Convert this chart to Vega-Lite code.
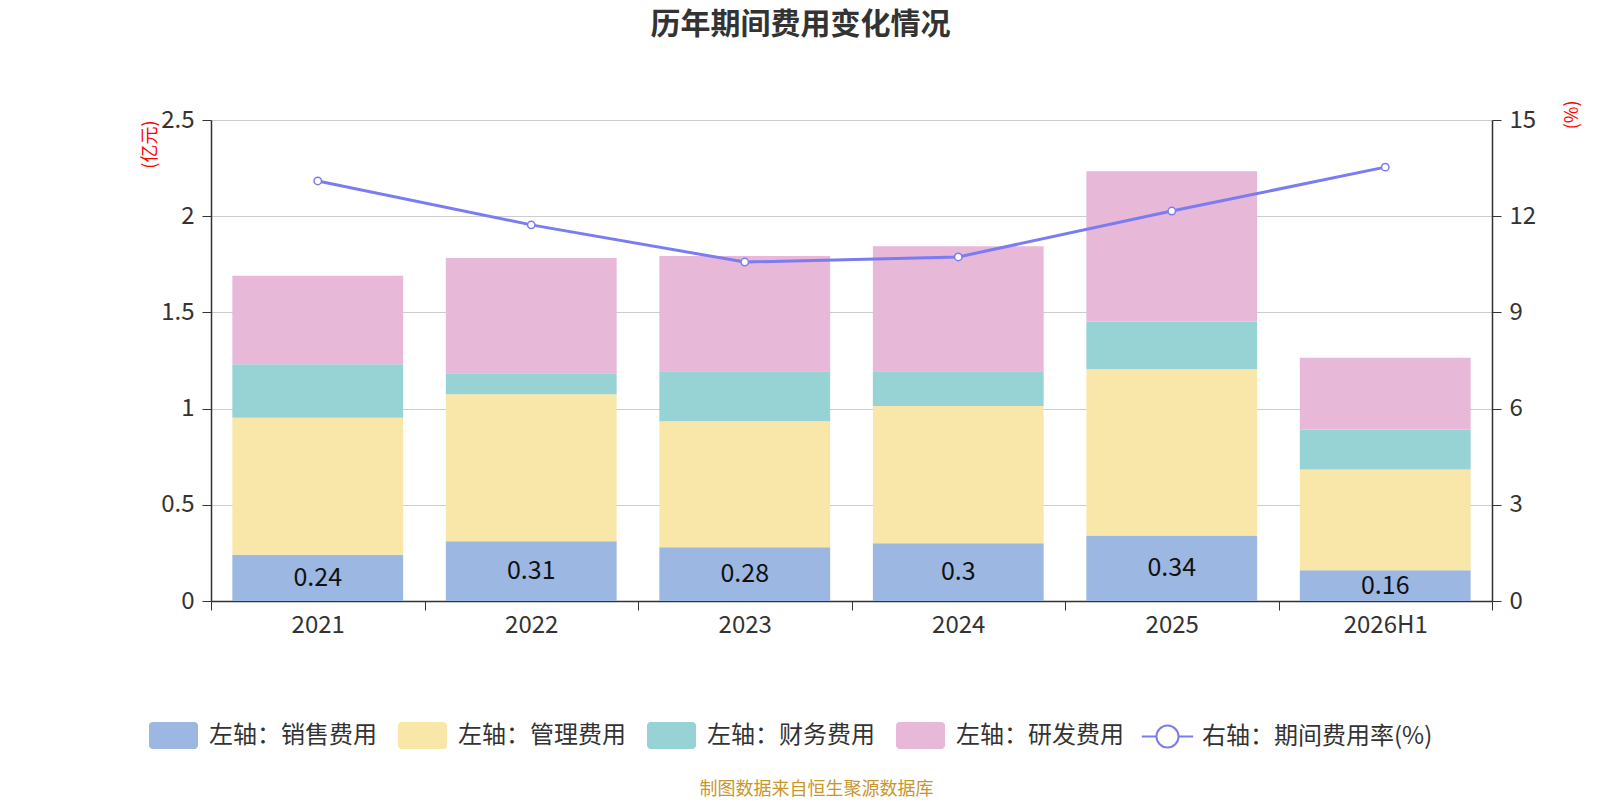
{
  "$schema": "https://vega.github.io/schema/vega-lite/v6.json",
  "width": 1281,
  "height": 481,
  "autosize": {"type": "none"},
  "padding": {"left": 211, "top": 120, "right": 108, "bottom": 199},
  "background": "white",
  "title": {
    "text": "历年期间费用变化情况",
    "fontSize": 30,
    "fontWeight": "bold",
    "color": "#333333",
    "anchor": "middle",
    "dx": -51,
    "offset": 60
  },
  "datasets": {
    "fees": [
      {"year": "2021", "type": "左轴：销售费用", "seq": 1, "value": 0.24},
      {"year": "2021", "type": "左轴：管理费用", "seq": 2, "value": 0.712},
      {"year": "2021", "type": "左轴：财务费用", "seq": 3, "value": 0.279},
      {"year": "2021", "type": "左轴：研发费用", "seq": 4, "value": 0.459},
      {"year": "2022", "type": "左轴：销售费用", "seq": 1, "value": 0.31},
      {"year": "2022", "type": "左轴：管理费用", "seq": 2, "value": 0.765},
      {"year": "2022", "type": "左轴：财务费用", "seq": 3, "value": 0.109},
      {"year": "2022", "type": "左轴：研发费用", "seq": 4, "value": 0.599},
      {"year": "2023", "type": "左轴：销售费用", "seq": 1, "value": 0.28},
      {"year": "2023", "type": "左轴：管理费用", "seq": 2, "value": 0.654},
      {"year": "2023", "type": "左轴：财务费用", "seq": 3, "value": 0.26},
      {"year": "2023", "type": "左轴：研发费用", "seq": 4, "value": 0.599},
      {"year": "2024", "type": "左轴：销售费用", "seq": 1, "value": 0.3},
      {"year": "2024", "type": "左轴：管理费用", "seq": 2, "value": 0.714},
      {"year": "2024", "type": "左轴：财务费用", "seq": 3, "value": 0.18},
      {"year": "2024", "type": "左轴：研发费用", "seq": 4, "value": 0.65},
      {"year": "2025", "type": "左轴：销售费用", "seq": 1, "value": 0.34},
      {"year": "2025", "type": "左轴：管理费用", "seq": 2, "value": 0.865},
      {"year": "2025", "type": "左轴：财务费用", "seq": 3, "value": 0.248},
      {"year": "2025", "type": "左轴：研发费用", "seq": 4, "value": 0.78},
      {"year": "2026H1", "type": "左轴：销售费用", "seq": 1, "value": 0.16},
      {"year": "2026H1", "type": "左轴：管理费用", "seq": 2, "value": 0.524},
      {"year": "2026H1", "type": "左轴：财务费用", "seq": 3, "value": 0.208},
      {"year": "2026H1", "type": "左轴：研发费用", "seq": 4, "value": 0.372}
    ],
    "rate": [
      {"year": "2021", "series": "右轴：期间费用率(%)", "rate": 13.1},
      {"year": "2022", "series": "右轴：期间费用率(%)", "rate": 11.73},
      {"year": "2023", "series": "右轴：期间费用率(%)", "rate": 10.57},
      {"year": "2024", "series": "右轴：期间费用率(%)", "rate": 10.73},
      {"year": "2025", "series": "右轴：期间费用率(%)", "rate": 12.16},
      {"year": "2026H1", "series": "右轴：期间费用率(%)", "rate": 13.53}
    ]
  },
  "layer": [
    {
      "data": {"name": "fees"},
      "layer": [
        {
          "mark": {"type": "bar", "width": {"band": 0.8}},
          "encoding": {
            "x": {
              "field": "year",
              "type": "nominal",
              "sort": null,
              "scale": {"paddingInner": 0, "paddingOuter": 0},
              "axis": {
                "title": "制图数据来自恒生聚源数据库",
                "titleColor": "#C9962C",
                "titleFontSize": 18,
                "titleFontWeight": "normal",
                "titleX": 605,
                "titleY": 188,
                "titleBaseline": "middle",
                "labelAngle": 0,
                "labelFontSize": 24,
                "labelColor": "#333333",
                "labelPadding": 3,
                "tickBand": "extent",
                "tickSize": 9,
                "tickColor": "#333333",
                "domainColor": "#333333",
                "domainWidth": 1.5,
                "grid": false
              }
            },
            "y": {
              "field": "value",
              "type": "quantitative",
              "stack": "zero",
              "scale": {"domain": [0, 2.5], "nice": false},
              "axis": {
                "title": "(亿元)",
                "titleColor": "red",
                "titleFontSize": 18,
                "titleFontWeight": "normal",
                "titleAngle": -90,
                "titleX": -61,
                "titleY": 0,
                "titleAlign": "right",
                "titleBaseline": "middle",
                "values": [0, 0.5, 1, 1.5, 2, 2.5],
                "format": "~g",
                "labelFontSize": 24,
                "labelColor": "#333333",
                "labelPadding": 8,
                "tickSize": 9,
                "tickColor": "#333333",
                "domainColor": "#333333",
                "domainWidth": 1.5,
                "gridColor": "#cccccc",
                "gridWidth": 1.2
              }
            },
            "color": {
              "field": "type",
              "type": "nominal",
              "sort": ["左轴：销售费用", "左轴：管理费用", "左轴：财务费用", "左轴：研发费用"],
              "scale": {
                "domain": ["左轴：销售费用", "左轴：管理费用", "左轴：财务费用", "左轴：研发费用"],
                "range": ["#9CB8E2", "#F8E7A8", "#97D3D4", "#E7B8D8"]
              },
              "legend": {
                "orient": "none",
                "legendX": -50,
                "legendY": 603,
                "direction": "horizontal",
                "columns": 4,
                "title": null,
                "symbolType": "M-1.7,-1.1 H1.7 A0.3,0.3 0 0 1 2,-0.8 V0.8 A0.3,0.3 0 0 1 1.7,1.1 H-1.7 A0.3,0.3 0 0 1 -2,0.8 V-0.8 A0.3,0.3 0 0 1 -1.7,-1.1 Z",
                "symbolSize": 600,
                "symbolStrokeWidth": 0,
                "symbolOpacity": 1,
                "labelOffset": 23,
                "columnPadding": 21,
                "labelFontSize": 24,
                "labelColor": "#333333",
                "labelLimit": 400
              }
            },
            "order": {"field": "seq", "type": "quantitative"}
          }
        },
        {
          "transform": [
            {"filter": "datum.seq == 1"},
            {"calculate": "datum.value / 2", "as": "mid"}
          ],
          "mark": {"type": "text", "fontSize": 25, "color": "#111111", "baseline": "middle"},
          "encoding": {
            "x": {"field": "year", "type": "nominal", "sort": null},
            "y": {"field": "mid", "type": "quantitative"},
            "text": {"field": "value", "type": "quantitative"}
          }
        }
      ]
    },
    {
      "data": {"name": "rate"},
      "mark": {
        "type": "line",
        "strokeWidth": 3,
        "point": {"filled": false, "fill": "white", "size": 55, "strokeWidth": 1.5}
      },
      "encoding": {
        "x": {"field": "year", "type": "nominal", "sort": null},
        "y": {
          "field": "rate",
          "type": "quantitative",
          "scale": {"domain": [0, 15], "nice": false},
          "axis": {
            "orient": "right",
            "title": "(%)",
            "titleColor": "red",
            "titleFontSize": 18,
            "titleFontWeight": "normal",
            "titleAngle": -90,
            "titleX": 80,
            "titleY": -20,
            "titleAlign": "right",
            "titleBaseline": "middle",
            "values": [0, 3, 6, 9, 12, 15],
            "labelFontSize": 24,
            "labelColor": "#333333",
            "labelPadding": 8,
            "tickSize": 9,
            "tickColor": "#333333",
            "domainColor": "#333333",
            "domainWidth": 1.5,
            "grid": false
          }
        },
        "stroke": {
          "field": "series",
          "type": "nominal",
          "scale": {"range": ["#7B7BF2"]},
          "legend": {
            "orient": "none",
            "legendX": 943,
            "legendY": 603,
            "title": null,
            "symbolType": "M-2.1,0 L-0.9,0 M0.9,0 L2.1,0 M-0.9,0 A0.9,0.9 0 1 0 0.9,0 A0.9,0.9 0 1 0 -0.9,0",
            "symbolSize": 600,
            "symbolStrokeWidth": 2,
            "symbolFillColor": "white",
            "labelOffset": 21,
            "labelFontSize": 24,
            "labelColor": "#333333",
            "labelLimit": 400
          }
        }
      }
    }
  ],
  "resolve": {"scale": {"y": "independent"}},
  "config": {
    "font": "Noto Sans CJK SC",
    "view": {"stroke": null}
  }
}
